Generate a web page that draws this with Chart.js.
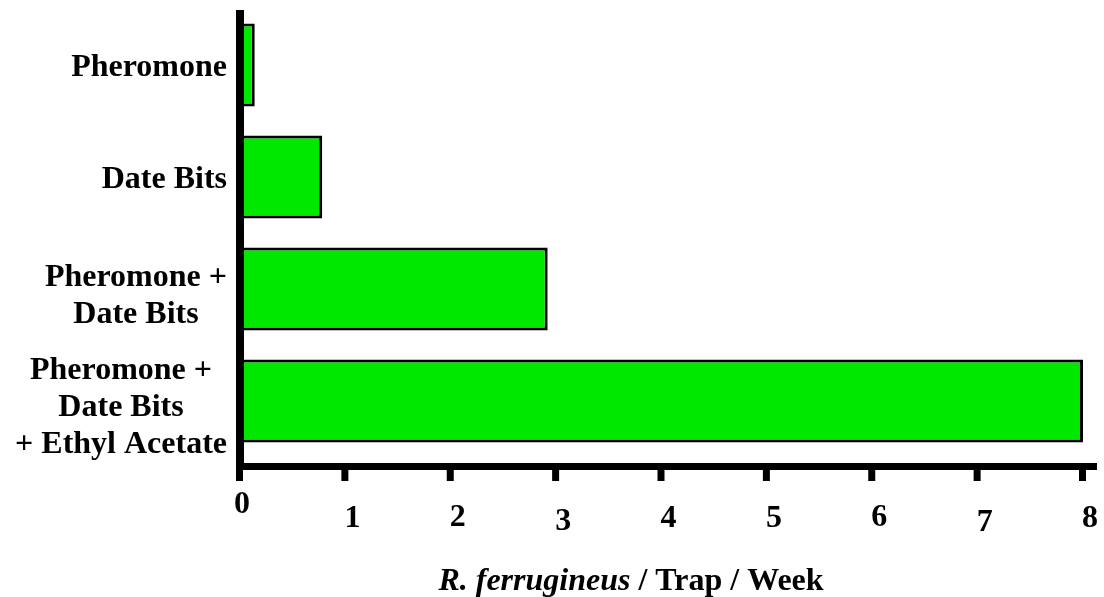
<!DOCTYPE html>
<html>
<head>
<meta charset="utf-8">
<script src="https://cdn.jsdelivr.net/npm/chart.js@4/dist/chart.umd.min.js"></script>
<style>
    html, body { margin: 0; padding: 0; background: #fff; }
    #wrap { position: relative; width: 1104px; height: 597px; }
</style>
</head>
<body>
<div id="wrap"><canvas id="grafico"></canvas></div>
<script>
'use strict';

const CATEGORIAS = [
    ['Pheromone'],
    ['Date Bits'],
    ['Pheromone +', 'Date Bits'],
    ['Pheromone +', 'Date Bits', '+ Ethyl Acetate'],
];
const VALORES = [0.14, 0.78, 2.92, 8.0];
const TICKS_X = [0, 1, 2, 3, 4, 5, 6, 7, 8];
const TITULO_X = [['R. ferrugineus', 'italic'], [' / Trap / Week', 'normal']];

const FUENTE = "'Liberation Serif', 'Times New Roman', serif";
const TAM = 32;
const VERDE = '#00e800';

// pequeños desplazamientos verticales de las etiquetas del eje x, como en el original
const desfaseEtiquetas = [-14, 0, -1, 3, 0, 0, -1, 4, 0];

const ejesDibujados = {
    id: 'ejesDibujados',
    afterDatasetsDraw(chart) {
        const { ctx, scales: { x, y } } = chart;
        const x0 = x.getPixelForValue(0);
        const yEje = 466;
        ctx.save();
        ctx.fillStyle = '#000';
        // eje y
        ctx.fillRect(x0 - 4, 10, 8, yEje + 4 - 10);
        // eje x
        ctx.fillRect(x0 - 4, yEje - 3, x.getPixelForValue(8) + 14 - (x0 - 4), 7);

        ctx.font = `bold ${TAM}px ${FUENTE}`;
        ctx.textAlign = 'center';
        ctx.textBaseline = 'middle';
        TICKS_X.forEach((t, i) => {
            const px = x.getPixelForValue(t);
            ctx.fillRect(px - 4, yEje + 3, 7, 12);
            ctx.fillText(String(t), px + (i === 0 ? 2 : 7), 519 + desfaseEtiquetas[i]);
        });

        // etiquetas de categorías
        const alto = 37;
        CATEGORIAS.forEach((lineas, i) => {
            const cy = y.getPixelForValue(i) + 3 + (lineas.length > 1 ? 4 : 0);
            const ancho = Math.max(...lineas.map((l) => ctx.measureText(l).width));
            const cx = 227 - ancho / 2;
            lineas.forEach((l, j) => {
                ctx.fillText(l, cx, cy + (j - (lineas.length - 1) / 2) * alto);
            });
        });

        // título del eje x con parte en cursiva
        ctx.textAlign = 'left';
        ctx.textBaseline = 'alphabetic';
        const partes = TITULO_X.map(([txt, estilo]) => {
            ctx.font = `${estilo} bold ${TAM}px ${FUENTE}`;
            return { txt, estilo, w: ctx.measureText(txt).width };
        });
        const total = partes.reduce((s, p) => s + p.w, 0);
        let cursor = 631 - total / 2;
        partes.forEach((p) => {
            ctx.font = `${p.estilo} bold ${TAM}px ${FUENTE}`;
            ctx.fillText(p.txt, cursor, 590);
            cursor += p.w;
        });
        ctx.restore();
    },
};

new Chart(document.getElementById('grafico'), {
    type: 'bar',
    data: {
        labels: CATEGORIAS,
        datasets: [{
            data: VALORES,
            backgroundColor: VERDE,
            borderColor: '#000',
            borderWidth: 3,
            borderSkipped: false,
            barPercentage: 0.74,
            categoryPercentage: 1,
        }],
    },
    options: {
        indexAxis: 'y',
        responsive: true,
        maintainAspectRatio: false,
        animation: false,
        layout: { padding: { left: 240, right: 21, top: 9, bottom: 140 } },
        plugins: { legend: { display: false }, tooltip: { enabled: false } },
        scales: {
            x: { display: false, min: 0, max: 8 },
            y: { display: false },
        },
    },
    plugins: [ejesDibujados],
});
</script>
</body>
</html>
